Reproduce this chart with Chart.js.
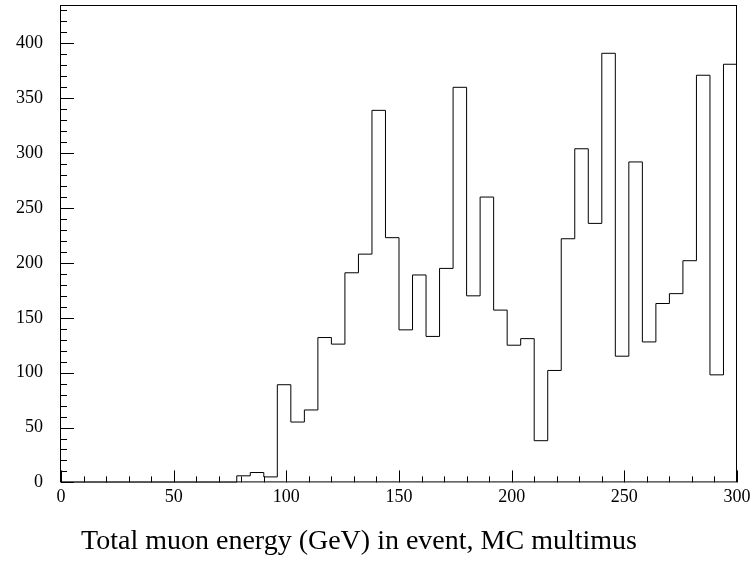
<!DOCTYPE html>
<html>
<head>
<meta charset="utf-8">
<script src="https://cdn.jsdelivr.net/npm/chart.js@4.4.1/dist/chart.umd.min.js"></script>
<style>
  body { margin: 0; background: #fff; }
  #wrap { width: 752px; height: 563px; }
</style>
</head>
<body>
<div id="wrap"><canvas id="myChart"></canvas></div>
<script>
// histogram: 50 bins of 6 GeV from 0 to 300
const binWidth = 6;
const xMin = 0;
const xMax = 300;
const counts = [
    0, 0, 0, 0, 0, 0, 0, 0, 0, 0,
    0, 0, 0, 6, 9, 5, 89, 55, 66, 132,
    126, 191, 208, 339, 223, 139, 189, 133, 195, 360,
    170, 260, 157, 125, 131, 38, 102, 222, 304, 236,
    391, 115, 292, 128, 163, 172, 202, 371, 98, 381
];
const xTickValues = [0, 50, 100, 150, 200, 250, 300];
const yTickValues = [0, 50, 100, 150, 200, 250, 300, 350, 400];
const yMax = 435;
const xTitle = 'Total muon energy (GeV) in event, MC multimus';

const serif = 'Liberation Serif, Times New Roman, serif';

// step points: bin low edge -> bin content, plus closing point at the upper edge
let points = counts.map((c, i) => ({ x: xMin + i * binWidth, y: c }));
points.push({ x: xMax, y: counts[counts.length - 1] });
points.push({ x: xMax, y: 0 });

// ROOT style frame with ticks pointing inwards
const frameTicks = {
    id: 'frameTicks',
    afterLayout(chart) {
        // title is centred a bit left of the canvas middle
        chart.titleBlock.right = chart.titleBlock.right - 19;
    },
    afterDatasetsDraw(chart) {
        const ctx = chart.ctx;
        const a = chart.chartArea;
        const x = chart.scales.x;
        const y = chart.scales.y;
        ctx.save();
        ctx.strokeStyle = '#000';
        ctx.lineWidth = 1;
        ctx.beginPath();
        for (let v = xMin; v <= xMax; v += 10) {
            const px = Math.round(x.getPixelForValue(v)) + 0.5;
            const len = xTickValues.includes(v) ? 12 : 6;
            ctx.moveTo(px, a.bottom);
            ctx.lineTo(px, a.bottom - len);
        }
        for (let v = 0; v <= yMax; v += 10) {
            const py = Math.round(y.getPixelForValue(v)) + 0.5;
            const len = yTickValues.includes(v) ? 13 : 6;
            ctx.moveTo(a.left, py);
            ctx.lineTo(a.left + len, py);
        }
        ctx.stroke();
        ctx.strokeRect(a.left - 0.5, a.top + 0.5, a.right - a.left, a.bottom - a.top - 1);
        ctx.restore();
    }
};

const ctx = document.getElementById('myChart').getContext('2d');
let myChart = new Chart(ctx, {
    type: 'line',
    data: {
        datasets: [{
            data: points,
            stepped: 'before',
            borderColor: '#000',
            borderWidth: 1,
            pointRadius: 0,
            fill: false
        }]
    },
    options: {
        responsive: true,
        maintainAspectRatio: false,
        animation: false,
        layout: { padding: { top: 5, right: 15, left: 0, bottom: 0 } },
        plugins: {
            legend: { display: false },
            tooltip: { enabled: false },
            title: {
                display: true,
                position: 'bottom',
                text: xTitle,
                color: '#000',
                font: { family: serif, size: 28, weight: 'normal' },
                padding: { top: 0, bottom: 5 }
            }
        },
        scales: {
            x: {
                type: 'linear',
                min: xMin,
                max: xMax,
                grid: { display: false, drawTicks: false },
                border: { display: false },
                ticks: { color: '#000', font: { family: serif, size: 18 }, padding: 4, maxRotation: 0 },
                afterBuildTicks: (s) => { s.ticks = xTickValues.map(v => ({ value: v })); },
                afterFit: (s) => { s.height = 42; s.paddingLeft = 0; s.paddingRight = 0; }
            },
            y: {
                type: 'linear',
                min: 0,
                max: yMax,
                grid: { display: false, drawTicks: false },
                border: { display: false },
                ticks: { color: '#000', font: { family: serif, size: 18 }, padding: 18 },
                afterBuildTicks: (s) => { s.ticks = yTickValues.map(v => ({ value: v })); },
                afterFit: (s) => { s.width = 61; s.paddingTop = 0; s.paddingBottom = 0; }
            }
        }
    },
    plugins: [frameTicks]
});
</script>
</body>
</html>
